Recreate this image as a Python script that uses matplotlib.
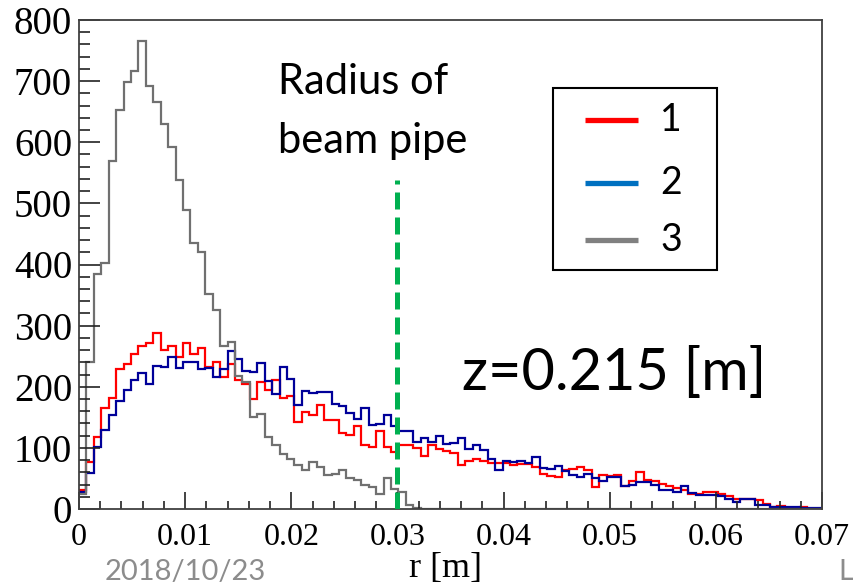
import numpy as np
import matplotlib.pyplot as plt
from matplotlib.ticker import MultipleLocator, FixedLocator
from matplotlib.patches import Rectangle

# histogram range: 100 bins between 0 and 0.07 m
r_min, r_max, n_bins = 0.0, 0.07, 100

counts_1 = [31, 77, 117, 166, 181, 229, 237, 254, 267, 271,
            288, 260, 267, 249, 271, 253, 263, 232, 241, 216,
            237, 211, 205, 180, 207, 195, 211, 182, 185, 143,
            158, 154, 170, 146, 145, 124, 121, 136, 104, 101,
            128, 102, 93, 104, 105, 99, 87, 104, 98, 95,
            92, 72, 78, 81, 78, 76, 76, 75, 72, 74,
            74, 68, 58, 54, 53, 64, 66, 68, 63, 36,
            56, 54, 56, 37, 46, 61, 47, 46, 41, 38,
            34, 31, 24, 24, 27, 27, 24, 21, 16, 16,
            17, 14, 8, 4, 5, 2, 1, 4, 0, 0]

counts_2 = [28, 59, 102, 129, 154, 177, 195, 211, 222, 205,
            234, 232, 248, 230, 241, 241, 229, 231, 216, 229,
            258, 245, 226, 224, 239, 209, 188, 232, 212, 170,
            193, 189, 192, 192, 172, 168, 157, 148, 166, 137,
            139, 153, 136, 128, 128, 110, 116, 110, 119, 106,
            108, 116, 98, 104, 96, 81, 64, 78, 77, 79,
            75, 85, 67, 66, 70, 62, 56, 52, 57, 50,
            46, 53, 53, 37, 39, 44, 44, 39, 31, 31,
            27, 38, 26, 23, 23, 23, 21, 17, 12, 16,
            17, 7, 7, 3, 3, 3, 3, 2, 1, 1]

counts_3 = [25, 241, 385, 403, 570, 653, 698, 716, 765, 692,
            666, 630, 592, 538, 489, 435, 421, 351, 326, 266,
            273, 217, 208, 150, 155, 117, 104, 90, 82, 72,
            64, 77, 69, 56, 58, 63, 50, 47, 39, 36,
            25, 50, 33, 28, 7, 1] + [0] * 54

legend_labels = ['1', '2', '3']
beam_pipe_r = 0.03
beam_pipe_top = 538

x_ticks = [0, 0.01, 0.02, 0.03, 0.04, 0.05, 0.06, 0.07]
x_tick_labels = ['0', '0.01', '0.02', '0.03', '0.04', '0.05', '0.06', '0.07']
y_ticks = [0, 100, 200, 300, 400, 500, 600, 700, 800]

hist_colors = ['#ff0000', '#000099', '#707070']
legend_colors = ['#ff0000', '#0070c0', '#808080']

W, H = 854, 587
fig = plt.figure(figsize=(W / 100, H / 100), dpi=100)
ax = fig.add_axes([79 / W, 1 - 509 / H, 743 / W, 489 / H])

edges = np.linspace(r_min, r_max, n_bins + 1)
for counts, col in zip([counts_1, counts_2, counts_3], hist_colors):
    ax.stairs(counts, edges, color=col, lw=1.6, baseline=None)

# beam pipe marker
ax.plot([beam_pipe_r, beam_pipe_r], [0, beam_pipe_top], color='#00b050',
        lw=3.6, linestyle=(0, (3.4, 1.6)), solid_capstyle='butt', zorder=5)

ax.set_xlim(r_min, r_max)
ax.set_ylim(0, 800)
ax.xaxis.set_major_locator(FixedLocator(x_ticks))
ax.set_xticklabels(x_tick_labels)
ax.xaxis.set_minor_locator(MultipleLocator(0.002))
ax.yaxis.set_major_locator(FixedLocator(y_ticks))
ax.set_yticklabels([str(v) for v in y_ticks])
ax.yaxis.set_minor_locator(MultipleLocator(20))

ax.tick_params(axis='x', which='major', direction='in', length=12, width=1.2,
               labelsize=23, pad=10, colors='#222222')
ax.tick_params(axis='x', which='minor', direction='in', length=6, width=1.2, colors='#222222')
ax.tick_params(axis='y', which='major', direction='in', length=15, width=1.2,
               labelsize=28, pad=5, colors='#222222')
ax.tick_params(axis='y', which='minor', direction='in', length=8, width=1.2, colors='#222222')
for lab in ax.get_xticklabels() + ax.get_yticklabels():
    lab.set_family('Liberation Serif')
    lab.set_color('black')
for s in ax.spines.values():
    s.set_color('#404040')
    s.set_linewidth(1.3)

fig.text(446 / W, 1 - 568 / H, 'r [m]', family='Liberation Serif', fontsize=26,
         ha='center', va='center')

# slide annotations
def px(x, y):
    return x / W, 1 - y / H

fig.text(*px(278, 94), 'Radius of', family='Lato', fontsize=30, va='baseline')
fig.text(*px(278, 153), 'beam pipe', family='Lato', fontsize=30, va='baseline')
fig.text(*px(462, 390), 'z=0.215 [m]', family='Lato', fontsize=41.5, va='baseline')
fig.text(*px(105, 580), '2018/10/23', family='Lato', fontsize=21, va='baseline', color='#8c8c8c')
fig.text(*px(838, 580), 'L', family='Lato', fontsize=21, va='baseline', color='#8c8c8c')

# legend box
fig.patches.append(Rectangle(px(553, 270), 164 / W, 182 / H, transform=fig.transFigure,
                             fill=True, facecolor='white', edgecolor='black', lw=1.5, zorder=6))
for lab, col, yy in zip(legend_labels, legend_colors, [120, 183, 240]):
    x0, y0 = px(585, yy)
    x1, _ = px(638, yy)
    fig.add_artist(plt.Line2D([x0, x1], [y0, y0], transform=fig.transFigure,
                              color=col, lw=3.8, solid_capstyle='butt', zorder=7))
    fig.text(*px(660, yy), lab, family='Lato', fontsize=27, va='center', zorder=7)

fig.savefig('out.png', dpi=100)
